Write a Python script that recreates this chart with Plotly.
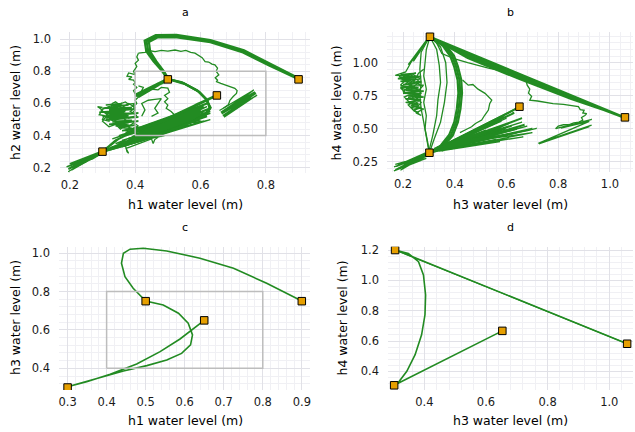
import plotly.graph_objects as go

# ---------------- data ----------------
# setpoint markers
a_marks_h1 = [0.30, 0.50, 0.65, 0.90]
a_marks_h2 = [0.30, 0.75, 0.65, 0.75]
c_marks_h1 = [0.30, 0.50, 0.65, 0.90]
c_marks_h3 = [0.30, 0.75, 0.65, 0.75]
b_marks_h3 = [0.304, 0.302, 0.650, 1.058]
b_marks_h4 = [1.197, 0.318, 0.667, 0.586]
d_marks_h3 = [0.305, 0.302, 0.653, 1.058]
d_marks_h4 = [1.200, 0.308, 0.667, 0.582]

# operating box (h1/h2 and h1/h3 panels)
box_lo = 0.4
box_hi = 0.8

# panel a : h1 vs h2 (noisy closed-loop trajectories)
a_loop1 = [(0.902,0.753),(0.86,0.795),(0.812,0.842),(0.731,0.925),(0.629,0.988),(0.527,1.019),(0.466,1.019),
           (0.435,0.988),(0.440,0.925),(0.461,0.863),(0.486,0.801),(0.500,0.753),(0.547,0.728),(0.593,0.676),
           (0.619,0.624),(0.629,0.572),(0.614,0.530),(0.578,0.489),(0.527,0.447),(0.476,0.406),(0.42,0.37),
           (0.36,0.335),(0.30,0.30)]
a_loop2 = [(0.900,0.751),(0.81,0.836),(0.73,0.918),(0.63,0.981),(0.528,1.011),(0.468,1.011),(0.442,0.983),
           (0.446,0.923),(0.465,0.862),(0.488,0.80),(0.503,0.750),(0.551,0.722),(0.597,0.671),(0.621,0.619),
           (0.628,0.568),(0.610,0.526),(0.573,0.485),(0.521,0.444),(0.470,0.408),(0.41,0.372),(0.35,0.332),
           (0.30,0.303)]
a_loop3 = [(0.902,0.755),(0.814,0.847),(0.733,0.931),(0.63,0.995),(0.526,1.027),(0.463,1.026),(0.429,0.992),
           (0.434,0.925),(0.456,0.862),(0.483,0.80),(0.498,0.754),(0.543,0.732),(0.590,0.681),(0.617,0.627),
           (0.631,0.574),(0.617,0.532),(0.582,0.492),(0.531,0.450),(0.478,0.411),(0.425,0.375),(0.365,0.337),
           (0.30,0.30)]
a_band65 = [(0.650,0.653),(0.60,0.605),(0.55,0.555),(0.496,0.505),(0.45,0.465),(0.40,0.43),(0.35,0.38),
            (0.30,0.30),(0.34,0.37),(0.39,0.42),(0.44,0.455),(0.49,0.49),(0.54,0.54),(0.59,0.59),(0.645,0.645),
            (0.59,0.598),(0.545,0.548),(0.493,0.498),(0.445,0.46),(0.395,0.425),(0.345,0.375),(0.30,0.302)]
a_wedge = [(0.50,0.75),(0.40,0.645),(0.495,0.738),(0.405,0.66),(0.49,0.745),(0.41,0.64),(0.485,0.73),
           (0.40,0.655),(0.47,0.725),(0.42,0.665),(0.495,0.744)]
a_top_noisy = [(0.41,0.913),(0.43,0.918),(0.445,0.928),(0.461,0.923),(0.48,0.93),(0.50,0.926),(0.522,0.933),
               (0.54,0.925),(0.555,0.93),(0.57,0.918),(0.583,0.913),(0.595,0.895),(0.605,0.885),(0.614,0.861),
               (0.625,0.858),(0.635,0.845),(0.644,0.840),(0.652,0.82),(0.648,0.80),(0.656,0.778),(0.645,0.76),
               (0.652,0.745),(0.649,0.736),(0.662,0.725),(0.675,0.715),(0.69,0.708),(0.705,0.694),(0.712,0.68),
               (0.710,0.663),(0.70,0.643),(0.69,0.62),(0.685,0.591),(0.67,0.57)]
a_left_noisy = [(0.41,0.913),(0.405,0.89),(0.41,0.87),(0.40,0.85),(0.405,0.83),(0.395,0.80),(0.40,0.78),
                (0.38,0.79),(0.375,0.77),(0.39,0.765),(0.38,0.75),(0.395,0.745),(0.40,0.73),(0.395,0.72),
                (0.405,0.70),(0.395,0.68),(0.40,0.66),(0.41,0.64),(0.40,0.62),(0.405,0.60),(0.395,0.58),
                (0.40,0.56),(0.39,0.54)]
a_mid_noisy = [(0.41,0.71),(0.425,0.70),(0.42,0.68),(0.44,0.675),(0.45,0.69),(0.47,0.685),(0.48,0.70),
               (0.50,0.695),(0.505,0.67),(0.49,0.65),(0.50,0.63),(0.49,0.61),(0.50,0.59),(0.495,0.57),
               (0.51,0.55),(0.52,0.53),(0.50,0.50)]
a_mid_noisy2 = [(0.42,0.52),(0.43,0.56),(0.42,0.60),(0.44,0.62),(0.46,0.625),(0.48,0.63),(0.47,0.60),
                (0.46,0.57),(0.47,0.54),(0.45,0.52)]
a_hatch = [(0.658,0.556),(0.763,0.684),(0.662,0.545),(0.766,0.673),(0.665,0.535),(0.770,0.663),(0.668,0.525),
           (0.773,0.652),(0.672,0.514),(0.755,0.640),(0.675,0.550),(0.760,0.680),(0.664,0.540),(0.768,0.668),
           (0.670,0.520)]
a_tail = [(0.196,0.19),(0.30,0.30),(0.20,0.215),(0.31,0.31),(0.205,0.20),(0.285,0.29),(0.19,0.205),
          (0.26,0.25),(0.20,0.225),(0.32,0.32),(0.21,0.195),(0.29,0.28),(0.215,0.235),(0.30,0.305),
          (0.23,0.22),(0.27,0.27),(0.195,0.175)]
a_tail2 = [(0.20,0.20),(0.28,0.285),(0.205,0.185),(0.30,0.295),(0.215,0.21),(0.25,0.235),(0.195,0.195),
           (0.31,0.305),(0.22,0.225),(0.29,0.29),(0.21,0.215),(0.27,0.255),(0.33,0.33),(0.36,0.345)]
a_band = [(0.36,0.34),(0.62,0.52),(0.37,0.36),(0.60,0.50),(0.38,0.38),(0.62,0.56),(0.37,0.40),(0.59,0.54),
          (0.39,0.42),(0.62,0.60),(0.40,0.44),(0.58,0.56),(0.38,0.37),(0.63,0.57),(0.36,0.35),(0.60,0.53),
          (0.39,0.39),(0.61,0.58),(0.41,0.43),(0.57,0.52),(0.40,0.38),(0.63,0.54),(0.42,0.41),(0.60,0.56),
          (0.38,0.36),(0.56,0.48),(0.41,0.40),(0.58,0.51),(0.43,0.43),(0.61,0.55)]
a_dense = [(0.32,0.32),(0.60,0.56),(0.34,0.35),(0.63,0.50),(0.36,0.33),(0.55,0.52),(0.33,0.38),(0.62,0.58),
           (0.38,0.36),(0.58,0.47),(0.35,0.40),(0.50,0.50),(0.40,0.37),(0.63,0.55),(0.37,0.42),(0.56,0.55),
           (0.42,0.38),(0.60,0.52),(0.36,0.37),(0.52,0.46),(0.44,0.40),(0.61,0.49),(0.38,0.44),(0.54,0.50),
           (0.35,0.34),(0.49,0.40),(0.39,0.39),(0.57,0.53),(0.41,0.42),(0.62,0.54)]
a_cloud = [(0.31,0.59),(0.36,0.60),(0.33,0.585),(0.38,0.59),(0.30,0.57),(0.39,0.575),(0.32,0.56),(0.40,0.565),
           (0.29,0.545),(0.37,0.55),(0.31,0.535),(0.41,0.54),(0.30,0.52),(0.38,0.525),(0.32,0.51),(0.41,0.515),
           (0.31,0.50),(0.39,0.495),(0.33,0.485),(0.41,0.49),(0.32,0.47),(0.38,0.475),(0.34,0.46),(0.40,0.465),
           (0.35,0.45),(0.39,0.445),(0.36,0.43),(0.41,0.44),(0.38,0.42)]
a_cloud_walk = [(0.33,0.58),(0.35,0.555),(0.32,0.545),(0.345,0.52),(0.31,0.51),(0.335,0.49),(0.36,0.515),
                (0.375,0.49),(0.35,0.47),(0.38,0.455),(0.395,0.48),(0.41,0.46),(0.39,0.44),(0.37,0.465),
                (0.355,0.44),(0.34,0.47),(0.32,0.455),(0.30,0.49),(0.315,0.53),(0.295,0.56),(0.32,0.58),
                (0.34,0.595),(0.36,0.575),(0.38,0.60),(0.40,0.575),(0.385,0.55),(0.405,0.525),(0.38,0.51),
                (0.36,0.535),(0.37,0.56),(0.35,0.585)]
a_cloud_edge = [(0.30,0.575),(0.285,0.58),(0.30,0.56),(0.29,0.53),(0.305,0.525),(0.30,0.50),(0.32,0.49),
                (0.33,0.60),(0.34,0.61),(0.35,0.595),(0.37,0.61),(0.38,0.595),(0.40,0.60),(0.39,0.58)]
a_dangle = [(0.37,0.34),(0.375,0.30),(0.38,0.29),(0.372,0.32),(0.385,0.33),(0.45,0.38),(0.455,0.35),
            (0.46,0.375),(0.47,0.39)]

# panel b : h3 vs h4 (noisy closed-loop trajectories)
b_wedge = [(0.304,1.197),(0.45,1.06),(0.65,0.895),(0.85,0.74),(1.058,0.586),(0.85,0.725),(0.65,0.875),
           (0.45,1.035),(0.304,1.197),(1.058,0.586),(0.85,0.748),(0.65,0.905),(0.45,1.07),(0.31,1.19),
           (0.45,1.048),(0.65,0.886),(0.85,0.733),(1.055,0.583),(0.85,0.745),(0.65,0.90),(0.45,1.065),
           (0.304,1.197),(0.45,1.055),(0.65,0.892),(0.85,0.737),(1.058,0.586),(0.85,0.73),(0.65,0.88),
           (0.45,1.04),(0.32,1.18)]
b_arc1 = [(0.304,1.197),(0.36,1.13),(0.39,1.05),(0.405,0.97),(0.418,0.87),(0.421,0.77),(0.415,0.65),
          (0.405,0.55),(0.385,0.45),(0.35,0.37),(0.304,0.318)]
b_arc2 = [(0.304,1.197),(0.354,1.128),(0.383,1.048),(0.398,0.968),(0.411,0.868),(0.414,0.77),(0.408,0.65),
          (0.398,0.55),(0.378,0.452),(0.345,0.372),(0.302,0.318)]
b_arc3 = [(0.304,1.197),(0.366,1.132),(0.397,1.052),(0.412,0.972),(0.425,0.872),(0.428,0.77),(0.422,0.65),
          (0.412,0.55),(0.392,0.448),(0.356,0.368),(0.304,0.318)]
b_inner1 = [(0.304,1.197),(0.345,1.12),(0.365,1.0),(0.37,0.85),(0.36,0.70),(0.345,0.55),(0.32,0.42),(0.302,0.318)]
b_inner2 = [(0.304,1.197),(0.33,1.10),(0.34,0.98),(0.345,0.85),(0.335,0.72),(0.33,0.60),(0.315,0.45),(0.30,0.33)]
b_left = [(0.304,1.197),(0.29,1.10),(0.285,1.0),(0.28,0.90),(0.29,0.80),(0.28,0.70),(0.29,0.60),(0.285,0.50),
          (0.295,0.40),(0.302,0.318)]
b_left2 = [(0.30,1.19),(0.27,1.08),(0.265,0.95),(0.27,0.85),(0.265,0.75),(0.27,0.65),(0.28,0.55),(0.29,0.45),
           (0.30,0.33)]
b_noisy1 = [(0.33,1.15),(0.35,1.07),(0.40,1.03),(0.45,1.0),(0.53,0.96),(0.60,0.93),(0.65,0.91),(0.672,0.894),
            (0.675,0.86),(0.68,0.83),(0.69,0.80),(0.685,0.77),(0.697,0.745),(0.69,0.717),(0.72,0.71),(0.75,0.70),
            (0.78,0.69),(0.82,0.685),(0.86,0.675),(0.878,0.667),(0.885,0.645),(0.90,0.64),(0.895,0.62),
            (0.91,0.615),(0.903,0.60),(0.89,0.585),(0.895,0.565),(0.88,0.55),(0.86,0.545),(0.84,0.53),
            (0.82,0.53),(0.80,0.52),(0.79,0.50)]
b_zz = [(0.79,0.50),(0.93,0.57),(0.81,0.505),(0.92,0.555),(0.723,0.389),(0.929,0.528),(0.73,0.395),
        (0.92,0.515),(0.725,0.385)]
b_noisy2 = [(0.43,0.87),(0.452,0.83),(0.47,0.835),(0.49,0.80),(0.517,0.768),(0.53,0.74),(0.543,0.717),
            (0.535,0.69),(0.53,0.641),(0.515,0.60),(0.504,0.566),(0.48,0.54),(0.465,0.515),(0.44,0.49),(0.42,0.47)]
b_fan = [(0.302,0.318),(0.650,0.667),(0.31,0.33),(0.64,0.652),(0.305,0.32),(0.717,0.503),(0.32,0.33),
         (0.60,0.58),(0.31,0.325),(0.665,0.439),(0.33,0.34),(0.69,0.49),(0.32,0.35),(0.56,0.55),(0.34,0.33),
         (0.575,0.402),(0.33,0.36),(0.62,0.52),(0.35,0.35),(0.50,0.47),(0.36,0.34),(0.70,0.47),(0.34,0.37),
         (0.53,0.43),(0.38,0.36),(0.60,0.50),(0.35,0.33),(0.45,0.40),(0.31,0.32),(0.63,0.64),(0.32,0.34)]
b_fan2 = [(0.305,0.325),(0.645,0.66),(0.315,0.335),(0.52,0.49),(0.33,0.345),(0.66,0.55),(0.34,0.36),
          (0.48,0.44),(0.36,0.37),(0.68,0.52),(0.37,0.355),(0.55,0.46),(0.39,0.38),(0.64,0.47),(0.40,0.37),
          (0.50,0.42),(0.42,0.40),(0.61,0.54),(0.38,0.345),(0.56,0.42),(0.31,0.33)]
b_fan3 = [(0.31,0.33),(0.63,0.62),(0.32,0.33),(0.66,0.58),(0.33,0.35),(0.62,0.55),(0.34,0.34),(0.70,0.50),
          (0.32,0.34),(0.58,0.56),(0.35,0.36),(0.64,0.50),(0.33,0.33),(0.55,0.50),(0.36,0.355),(0.67,0.53),
          (0.31,0.32),(0.59,0.60)]
b_ul = [(0.304,1.197),(0.24,1.01),(0.30,1.19),(0.22,0.985),(0.29,1.17),(0.23,1.0),(0.21,0.93),(0.17,0.905),
        (0.22,0.90),(0.20,0.87),(0.25,0.88),(0.22,0.84),(0.27,0.86),(0.24,0.82),(0.21,0.80),(0.26,0.80),
        (0.23,0.77),(0.27,0.75),(0.22,0.74),(0.25,0.71),(0.21,0.70),(0.26,0.68),(0.23,0.66),(0.28,0.65),
        (0.25,0.62),(0.27,0.60),(0.24,0.64),(0.22,0.68),(0.26,0.72),(0.24,0.76),(0.20,0.78),(0.24,0.85),
        (0.26,0.92),(0.28,0.95)]
b_cloud = [(0.19,0.91),(0.25,0.92),(0.20,0.90),(0.27,0.895),(0.18,0.88),(0.26,0.875),(0.19,0.86),(0.27,0.85),
           (0.20,0.835),(0.28,0.83),(0.19,0.815),(0.26,0.81),(0.21,0.79),(0.28,0.785),(0.20,0.77),(0.27,0.765),
           (0.22,0.75),(0.28,0.74),(0.21,0.725),(0.27,0.72),(0.22,0.70),(0.26,0.69),(0.23,0.675),(0.27,0.66),
           (0.24,0.64),(0.26,0.62)]
b_cloud_walk = [(0.20,0.90),(0.23,0.87),(0.21,0.84),(0.245,0.82),(0.22,0.79),(0.19,0.81),(0.21,0.77),
                (0.25,0.76),(0.235,0.73),(0.26,0.71),(0.24,0.68),(0.22,0.71),(0.205,0.74),(0.23,0.76),
                (0.26,0.79),(0.275,0.82),(0.25,0.85),(0.265,0.88),(0.24,0.91),(0.215,0.885),(0.185,0.895),
                (0.205,0.86),(0.19,0.83),(0.225,0.815),(0.255,0.80),(0.27,0.77),(0.245,0.745),(0.27,0.70),
                (0.25,0.65)]
b_bl = [(0.165,0.21),(0.30,0.30),(0.17,0.19),(0.29,0.275),(0.18,0.225),(0.285,0.315),(0.165,0.18),(0.27,0.26),
        (0.20,0.24),(0.30,0.32),(0.18,0.20),(0.25,0.27),(0.17,0.23),(0.28,0.29),(0.19,0.185),(0.30,0.31),
        (0.175,0.215),(0.26,0.285),(0.185,0.195),(0.295,0.295)]

# panel c : h1 vs h3 (nominal trajectory)
c_path = [(0.900,0.751),(0.810,0.843),(0.725,0.922),(0.639,0.974),(0.554,1.012),(0.494,1.026),(0.460,1.021),
          (0.443,1.000),(0.438,0.948),(0.447,0.878),(0.468,0.817),(0.500,0.751),(0.545,0.730),(0.584,0.687),
          (0.609,0.635),(0.620,0.574),(0.615,0.522),(0.592,0.478),(0.554,0.443),(0.503,0.414),(0.443,0.386),
          (0.383,0.353),(0.332,0.322),(0.300,0.304),(0.349,0.330),(0.409,0.369),(0.477,0.423),(0.537,0.487),
          (0.588,0.553),(0.650,0.650)]

# panel d : h3 vs h4 (nominal trajectory)
d_path = [(1.058,0.582),(0.60,0.962),(0.40,1.128),(0.33,1.182),(0.305,1.200),(0.348,1.178),(0.381,1.123),
          (0.397,1.036),(0.404,0.904),(0.402,0.773),(0.391,0.641),(0.370,0.510),(0.343,0.400),(0.310,0.312),
          (0.302,0.308),(0.653,0.667)]
d_return = [(0.305,1.200),(0.62,0.94),(1.058,0.582)]

# ---------------- styling ----------------
GREEN = "#228B22"
ORANGE = "#E69F00"
FONT = "DejaVu Sans"
W, H = 635, 432

fig = go.Figure()

def unzip(pts):
    return [p[0] for p in pts], [p[1] for p in pts]

def add_line(pts, ax, width):
    x, y = unzip(pts)
    fig.add_trace(go.Scatter(x=x, y=y, mode="lines", xaxis="x" + ax, yaxis="y" + ax,
                             line=dict(color=GREEN, width=width), showlegend=False, hoverinfo="skip"))

def add_box(ax):
    bx = [box_lo, box_hi, box_hi, box_lo, box_lo]
    by = [box_lo, box_lo, box_hi, box_hi, box_lo]
    fig.add_trace(go.Scatter(x=bx, y=by, mode="lines", xaxis="x" + ax, yaxis="y" + ax,
                             line=dict(color="#bdbdbd", width=1.5), showlegend=False, hoverinfo="skip"))

def add_marks(x, y, ax):
    fig.add_trace(go.Scatter(x=x, y=y, mode="markers", xaxis="x" + ax, yaxis="y" + ax,
                             marker=dict(symbol="square", size=7.5, color=ORANGE,
                                         line=dict(color="black", width=1)),
                             showlegend=False, hoverinfo="skip"))

# panel a  (axis suffix "")
for seg in [a_tail, a_tail2, a_dense, a_dangle, a_mid_noisy, a_mid_noisy2, a_left_noisy,
            a_top_noisy, a_hatch, a_cloud_edge, a_cloud_walk]:
    add_line(seg, "", 1.3)
add_line(a_cloud, "", 1.6)
for seg in [a_band, a_band65, a_wedge]:
    add_line(seg, "", 2.0)
for seg in [a_loop1, a_loop2, a_loop3]:
    add_line(seg, "", 2.2)
add_box("")
add_marks(a_marks_h1, a_marks_h2, "")

# panel b (axis suffix "2")
for seg in [b_bl, b_ul, b_fan, b_fan2, b_noisy1, b_noisy2, b_zz, b_left, b_left2, b_inner1, b_inner2,
            b_cloud_walk]:
    add_line(seg, "2", 1.3)
add_line(b_cloud, "2", 1.6)
for seg in [b_fan3, b_wedge]:
    add_line(seg, "2", 1.9)
for seg in [b_arc1, b_arc2, b_arc3]:
    add_line(seg, "2", 2.2)
add_marks(b_marks_h3, b_marks_h4, "2")

# panel c (axis suffix "3")
add_line(c_path, "3", 1.6)
add_box("3")
add_marks(c_marks_h1, c_marks_h3, "3")

# panel d (axis suffix "4")
add_line(d_path, "4", 1.6)
add_line(d_return, "4", 1.2)
add_marks(d_marks_h3, d_marks_h4, "4")

GRID = "#e1e1e7"
MINOR = "#f0f0f4"

def axis(domain, rng, tick0, dtick, fmt, anchor, standoff):
    return dict(domain=domain, range=rng, anchor=anchor, tickmode="linear", tick0=tick0, dtick=dtick,
                tickformat=fmt, showgrid=True, gridcolor=GRID, gridwidth=1, zeroline=False,
                showline=False, ticks="", ticklabelstandoff=standoff, automargin=False,
                tickfont=dict(family=FONT, size=11.5, color="#1a1a1a"),
                minor=dict(dtick=dtick / 5, tick0=tick0, showgrid=True, gridcolor=MINOR, gridwidth=1, ticks=""))

def px_x(a, b):
    return [a / W, b / W]

def px_y(top, bottom):
    return [1 - bottom / H, 1 - top / H]

fig.update_layout(
    template="none",
    width=W, height=H, margin=dict(l=0, r=0, t=0, b=0, pad=0, autoexpand=False),
    paper_bgcolor="white", plot_bgcolor="white",
    font=dict(family=FONT, color="black"),
    xaxis=axis(px_x(60, 310), [0.170, 0.935], 0.2, 0.2, ".1f", "y", 3),
    yaxis=axis(px_y(32, 173), [0.167, 1.045], 0.2, 0.2, ".1f", "x", 8),
    xaxis2=axis(px_x(387, 633), [0.138, 1.089], 0.2, 0.2, ".1f", "y2", 3),
    yaxis2=axis(px_y(32, 172), [0.172, 1.233], 0.25, 0.25, ".2f", "x2", 8),
    xaxis3=axis(px_x(59, 310), [0.278, 0.921], 0.3, 0.1, ".1f", "y3", 3),
    yaxis3=axis(px_y(246.7, 390), [0.287, 1.034], 0.2, 0.2, ".1f", "x3", 8),
    xaxis4=axis(px_x(388, 633), [0.282, 1.077], 0.2, 0.2, ".1f", "y4", 3),
    yaxis4=axis(px_y(246.7, 390), [0.277, 1.222], 0.2, 0.2, ".1f", "x4", 8),
)

ann = []
def text(s, xp, yp, size, angle=0):
    ann.append(dict(text=s, x=xp / W, y=1 - yp / H, xref="paper", yref="paper", showarrow=False,
                    xanchor="center", yanchor="middle", textangle=angle,
                    font=dict(family=FONT, size=size, color="black")))

text("a", 185, 12.7, 11)
text("b", 510.5, 12.7, 11)
text("c", 184.5, 227.7, 11)
text("d", 510.5, 227.7, 11)
text("h1 water level (m)", 185, 205, 12.5)
text("h3 water level (m)", 511, 205, 12.5)
text("h1 water level (m)", 185, 420, 12.5)
text("h3 water level (m)", 511, 420, 12.5)
text("h2 water level (m)", 15, 103, 12.5, -90)
text("h4 water level (m)", 335.5, 103, 12.5, -90)
text("h3 water level (m)", 15, 318, 12.5, -90)
text("h4 water level (m)", 341.5, 318, 12.5, -90)
fig.update_layout(annotations=ann)

fig.write_html("out.html", config={"displayModeBar": False},
               post_script="document.body.style.margin='0px';document.body.style.overflow='hidden';")
